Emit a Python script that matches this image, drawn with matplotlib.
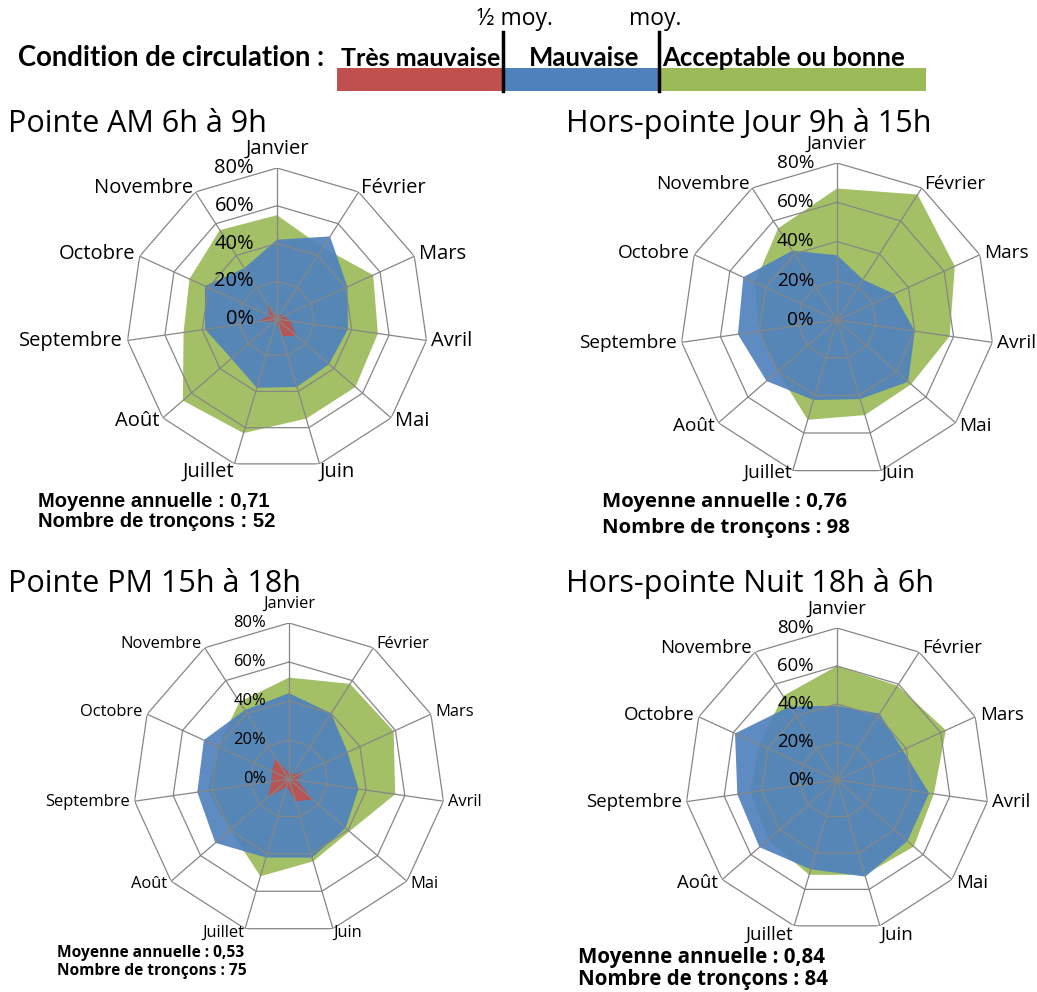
import numpy as np
import matplotlib.pyplot as plt
from matplotlib.patches import Rectangle
from matplotlib.transforms import ScaledTranslation

plt.rcParams['font.family'] = ['Open Sans', 'DejaVu Sans']

W, H = 1037, 992

mois = ['Janvier', 'Février', 'Mars', 'Avril', 'Mai', 'Juin', 'Juillet',
        'Août', 'Septembre', 'Octobre', 'Novembre']
paliers = [0, 20, 40, 60, 80]

# part des tronçons (%) par condition, cumulée vers l'extérieur
am_bonne = [55, 45, 56, 54, 55, 55, 63, 66, 50, 51, 56]
am_mauvaise = [42, 52, 41, 38, 36.5, 37.5, 38, 32, 38.5, 42, 32]
am_tres = [1, 3, 4, 7, 13.5, 9.5, 1.5, 2, 11, 4, 10.5]

jour_bonne = [67, 76, 66, 58, 50, 50.5, 53, 40, 40, 46, 55.5]
jour_mauvaise = [33, 24.5, 32, 40, 48, 42, 42.5, 47.5, 51, 52.5, 42]
jour_tres = [1, 1, 1.5, 1.5, 1, 1, 1, 1, 1, 1, 1]

pm_bonne = [52, 58, 59, 55, 41, 44, 52, 40, 42, 40, 47]
pm_mauvaise = [44, 40, 33, 36, 38.5, 42, 42, 50, 47.5, 48, 42]
pm_tres = [3, 3, 8.5, 4, 16, 12, 4, 14.5, 9, 9.5, 13]

nuit_bonne = [60, 59, 63, 51.5, 53.5, 52, 52, 48, 46, 45, 52.5]
nuit_mauvaise = [39, 41.5, 38, 49, 49, 53, 49, 54, 53, 59, 46]
nuit_tres = [0.5, 0.5, 0.5, 0.5, 0.5, 0.5, 0.5, 0.5, 0.5, 0.5, 0.5]

ROUGE, BLEU, VERT = '#C0504D', '#4F81BD', '#9BBB59'
GRIS = '#868686'

fig = plt.figure(figsize=(W / 100, H / 100), dpi=100)


def radar(cx, cy, r, titre, tx, ty, bonne, mauvaise, tres, fs, bas):
    ax = fig.add_axes([(cx - r) / W, 1 - (cy + r) / H, 2 * r / W, 2 * r / H],
                      projection='polar')
    ax.set_theta_zero_location('N')
    ax.set_theta_direction(-1)
    theta = np.linspace(0, 2 * np.pi, len(mois), endpoint=False)
    ferme = np.append(theta, theta[0])
    for serie, coul in ((bonne, VERT), (mauvaise, BLEU), (tres, ROUGE)):
        ax.fill(ferme, serie + serie[:1], color=coul, alpha=0.92, lw=0, zorder=2)
    for p in paliers[1:]:
        ax.plot(ferme, [p] * len(ferme), color=GRIS, lw=0.9, zorder=3)
    for t in theta:
        ax.plot([t, t], [0, paliers[-1]], color=GRIS, lw=0.9, zorder=3)
    ax.set_ylim(0, paliers[-1])
    ax.grid(False)
    ax.spines['polar'].set_visible(False)
    ax.set_xticks([])
    ax.set_yticks([])
    ax.patch.set_alpha(0)

    decal = ScaledTranslation(-23 / 100, 0, fig.dpi_scale_trans)
    for p in paliers:
        ax.text(0, p, f'{p}%', transform=ax.transData + decal,
                ha='right', va='center', fontsize=fs, zorder=4)
    for t, m in zip(theta, mois):
        s, c = np.sin(t), np.cos(t)
        ha = 'center' if abs(s) < 0.1 else ('left' if s > 0 else 'right')
        if c > 0.9:
            d = (0, 19)
        elif c < -0.9:
            d = (2 * s, -bas)
        else:
            d = (5 * s, 5 * c)
        ax.annotate(m, (t, paliers[-1]), xytext=d, textcoords='offset pixels',
                    ha=ha, va='center', fontsize=fs)
    fig.text(tx / W, 1 - ty / H, titre, fontsize=22, va='baseline')


radar(277, 319, 151, 'Pointe AM 6h à 9h', 8, 132,
      am_bonne, am_mauvaise, am_tres, 14.5, 8)
radar(837, 320, 157, 'Hors-pointe Jour 9h à 15h', 566, 132,
      jour_bonne, jour_mauvaise, jour_tres, 13.7, 2)
radar(289, 779, 156, 'Pointe PM 15h à 18h', 8, 592,
      pm_bonne, pm_mauvaise, pm_tres, 11.9, 4)
radar(837, 780, 152, 'Hors-pointe Nuit 18h à 6h', 566, 592,
      nuit_bonne, nuit_mauvaise, nuit_tres, 13.4, 9)

# moyennes et nombre de tronçons sous chaque radar
pieds = [
    (38, 507, 527, '0,71', '52', 'Liberation Sans', 14.5),
    (602, 507, 533, '0,76', '98', 'Open Sans', 14.7),
    (57, 957, 975, '0,53', '75', 'Open Sans', 11.2),
    (578, 963, 985, '0,84', '84', 'Open Sans', 14.8),
]
for x, y1, y2, moy, nb, police, taille in pieds:
    fig.text(x / W, 1 - y1 / H, f'Moyenne annuelle : {moy}', fontsize=taille,
             fontweight='bold', family=police, va='baseline')
    fig.text(x / W, 1 - y2 / H, f'Nombre de tronçons : {nb}', fontsize=taille,
             fontweight='bold', family=police, va='baseline')

# barre des conditions de circulation
leg = fig.add_axes([0, 1 - 100 / H, 1, 100 / H])
leg.set_xlim(0, W)
leg.set_ylim(100, 0)
leg.axis('off')
for x0, x1, coul in ((337, 503, ROUGE), (503, 660, BLEU), (660, 926, VERT)):
    leg.add_patch(Rectangle((x0, 68), x1 - x0, 23, color=coul, lw=0))
for x in (503, 659):
    leg.plot([x, x], [32, 91], color='black', lw=2.5)
leg.text(18, 58, 'Condition de circulation :', family='Lato', fontweight='bold',
         fontsize=19.8, va='center')
for x, nom, ha, taille in ((421, 'Très mauvaise', 'center', 18),
                           (584, 'Mauvaise', 'center', 18.5),
                           (662, 'Acceptable ou bonne', 'left', 18.5)):
    leg.text(x, 58, nom, family='Lato', fontweight='bold', fontsize=taille,
             va='center', ha=ha)
leg.text(515, 19, '½ moy.', fontsize=16.5, va='center', ha='center')
leg.text(655, 19, 'moy.', fontsize=16.5, va='center', ha='center')

fig.savefig('out.png', dpi=100)
